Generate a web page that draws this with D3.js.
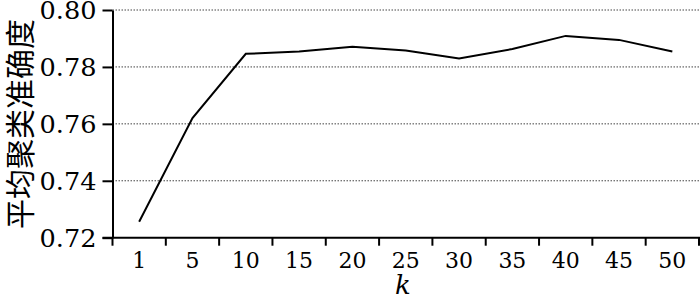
<!DOCTYPE html>
<html><head><meta charset="utf-8">
<script src="https://cdn.jsdelivr.net/npm/d3@7"></script>
<style>html,body{margin:0;padding:0;background:#fff;}svg{display:block;}</style>
</head><body>
<script>
const categories = ["1","5","10","15","20","25","30","35","40","45","50"];
const accuracy = [0.7256,0.7620,0.7846,0.7854,0.7871,0.7858,0.7830,0.7863,0.7909,0.7895,0.7854];
const yTicks = [0.72,0.74,0.76,0.78,0.80];
const yLabel = "平均聚类准确度";
const xLabel = "k";

const W = 700, H = 298;
const svg = d3.select("body").append("svg").attr("width", W).attr("height", H);

const x = d3.scaleBand().domain(categories).range([112.5, 699]);
const y = d3.scaleLinear().domain([0.72, 0.80]).range([237.7, 10]);

// gridlines
svg.append("g").selectAll("line").data(yTicks.filter(t => t > 0.72)).join("line")
  .attr("x1", 112.5).attr("x2", W).attr("y1", d => y(d)).attr("y2", d => y(d))
  .attr("stroke", "#444").attr("stroke-width", 1).attr("stroke-dasharray", "1.5,1.5");

// y axis
const yAxis = svg.append("g").attr("transform", "translate(112.5,0)")
  .call(d3.axisLeft(y).tickValues(yTicks).tickFormat(d3.format(".2f")).tickSize(10).tickSizeOuter(0));
yAxis.select(".domain").attr("stroke", "#000").attr("stroke-width", 2);
yAxis.selectAll(".tick line").attr("stroke", "#000").attr("stroke-width", 2);
yAxis.selectAll(".tick text").attr("font-family", "DejaVu Serif").attr("font-size", 24)
  .attr("fill", "#000").attr("x", -16).attr("dy", "0.35em")
  .attr("textLength", 57).attr("lengthAdjust", "spacingAndGlyphs");

// x axis (ticks at band boundaries)
const xg = svg.append("g").attr("transform", "translate(0,237.7)");
xg.append("line").attr("x1", 102.5).attr("x2", W).attr("y1", 0).attr("y2", 0)
  .attr("stroke", "#000").attr("stroke-width", 2);
const bounds = categories.map(c => x(c)).concat([x(categories[categories.length-1]) + x.bandwidth()]);
xg.selectAll("line.tk").data(bounds).join("line").attr("class", "tk")
  .attr("x1", d => d).attr("x2", d => d).attr("y1", 0).attr("y2", 8)
  .attr("stroke", "#000").attr("stroke-width", 2);
xg.selectAll("text").data(categories).join("text")
  .attr("x", d => x(d) + x.bandwidth()/2).attr("y", 30)
  .attr("text-anchor", "middle").attr("font-family", "DejaVu Serif").attr("font-size", 22)
  .attr("fill", "#000").text(d => d);

// line
const line = d3.line().x((d, i) => x(categories[i]) + x.bandwidth()/2).y(d => y(d));
svg.append("path").datum(accuracy).attr("d", line)
  .attr("fill", "none").attr("stroke", "#000").attr("stroke-width", 2).attr("stroke-linejoin", "miter");

// axis labels
svg.append("text").attr("x", 403).attr("y", 294).attr("text-anchor", "middle")
  .attr("font-family", "DejaVu Serif").attr("font-style", "italic").attr("font-size", 26)
  .attr("fill", "#000").text(xLabel);
svg.append("text").attr("transform", "translate(20,124) rotate(-90)")
  .attr("text-anchor", "middle").attr("dy", "0.36em")
  .attr("font-family", "Noto Sans CJK SC").attr("font-size", 30).attr("fill", "#000")
  .text(yLabel);
</script>
</body></html>
